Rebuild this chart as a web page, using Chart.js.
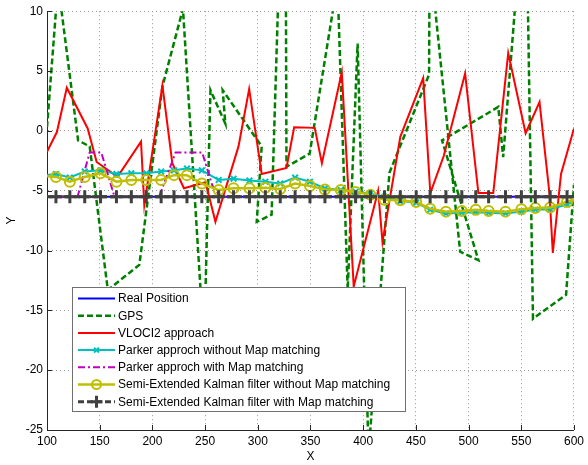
<!DOCTYPE html>
<html>
<head>
<meta charset="utf-8">
<script src="https://cdn.jsdelivr.net/npm/chart.js@4/dist/chart.umd.min.js"></script>
<style>
  html, body { margin: 0; padding: 0; background: #fff; }
</style>
</head>
<body>
<canvas id="chart" width="588" height="465"></canvas>
<script>
// sample positions shared by the filter outputs
const sampleX = [100, 108.5, 121.7, 135.8, 150.8, 165.9, 180, 194.2, 208.3, 220.5, 232.8, 246.9,
  262.9, 277, 292.1, 307.2, 321.3, 335.4, 349.5, 363.7, 378.7, 392.8, 406.9, 420.2, 435.2,
  450.3, 463.5, 478.5, 493.6, 506.8, 519, 535, 550.1, 563.3, 577.4, 593.4, 600];

const realX = [100, 600];
const realY = [-5.5, -5.5];

const gpsX = [100, 110.5, 129.5, 140.5, 157.7, 187.6, 209.5, 229, 245.7, 250.4, 255.1, 269.2,
  266.7, 303.7, 299, 313.1, 326, 327.2, 349.2, 375.6, 385.3, 394.7, 405.1, 416.7, 424.9,
  462.5, 463, 492, 509.3, 474.8, 528.2, 532.8, 554.2, 561.1, 592.5, 600];
const gpsY = [0.3, 12.3, -0.8, -1.3, -13.3, -11.2, 3.7, 10.2, -13.3, -13.3, 3.4, 0.6,
  3.4, -1.3, -7.6, -7.0, 30, -3.0, -1.9, 12.4, -13.3, 7.3, -27, -13, -3.5,
  4.7, 14.7, -10.1, -10.8, -0.8, 2.0, -2.2, 21.6, -15.7, -13.7, -4.5];

const vlociX = [100, 109.4, 118.8, 138.6, 147.1, 166.9, 189.2, 192.3, 209.5, 218.9, 229.9, 250.4,
  259.8, 281.7, 291.8, 303.7, 327.2, 334.5, 354, 360.8, 379.7, 391, 414.2, 418.3, 435.2,
  456.9, 463.7, 476.4, 496.7, 509.3, 523.4, 537.6, 554.1, 567.3, 576.7, 579.9, 587.7, 600];
const vlociY = [-1.75, -0.1, 3.6, 0.2, -2.6, -3.85, -0.9, -6.2, 3.8, -2.7, -4.8, -4.3,
  -7.6, -1.3, 3.5, -3.6, -3.1, 0.3, 0.25, -2.7, 4.9, -13.0, -5.0, -9.3, -0.5,
  4.4, -5.2, -2.1, 4.8, -5.2, -5.2, 6.5, -0.2, 2.4, -5.2, -10.2, -3.6, 0.2];

const parkerY = [-3.7, -3.6, -3.9, -3.4, -3.3, -3.6, -3.55, -3.55, -3.4, -3.3, -3.15, -3.3,
  -4.1, -4.0, -4.15, -4.25, -4.4, -3.9, -4.25, -4.8, -4.95, -5.1, -5.25, -5.5, -5.85,
  -6.0, -6.6, -6.9, -6.85, -6.8, -6.85, -6.9, -6.75, -6.6, -6.55, -6.15, -5.9];

const parkerMapX = [100, 129, 140.5, 151.5, 164, 206.4, 222, 247.2, 257, 265, 600];
const parkerMapY = [-5.5, -5.5, -1.8, -1.8, -5.5, -5.5, -1.8, -1.8, -4.6, -5.5, -5.5];

const kalmanY = [-3.8, -3.85, -4.25, -3.85, -3.55, -4.25, -4.1, -4.1, -4.1, -3.7, -3.7, -4.4,
  -4.95, -4.8, -4.8, -4.75, -4.85, -4.4, -4.6, -4.9, -4.95, -5.1, -5.35, -5.75, -5.8,
  -5.95, -6.5, -6.75, -6.7, -6.6, -6.7, -6.75, -6.55, -6.45, -6.4, -5.95, -5.75];

const kalmanMapY = sampleX.map(() => -5.5);

const xTicks = [100, 150, 200, 250, 300, 350, 400, 450, 500, 550, 600];
const yTicks = [-25, -20, -15, -10, -5, 0, 5, 10];

const labels = [
  'Real Position',
  'GPS',
  'VLOCI2 approach',
  'Parker approch without Map matching',
  'Parker approch with Map matching',
  'Semi-Extended Kalman filter without Map matching',
  'Semi-Extended Kalman filter with Map matching'
];

const FONT = '"Liberation Sans", Arial, Helvetica, sans-serif';

function pts(xa, ya) {
  return xa.map((x, i) => ({ x: x, y: ya[i] }));
}

// hide marker on the first / last sample (they sit on the axis edges)
function innerRadius(r) {
  return function (c) {
    return (c.dataIndex === 0 || c.dataIndex === sampleX.length - 1) ? 0 : r;
  };
}

const styles = [
  { color: '#0000ff', width: 2, dash: [], marker: null },
  { color: '#008000', width: 2.5, dash: [6, 3], marker: null },
  { color: '#ff0000', width: 2, dash: [], marker: null },
  { color: '#00bfbf', width: 2, dash: [], marker: 'crossRot', radius: 4, mw: 2 },
  { color: '#bf00bf', width: 2, dash: [7, 3, 2, 3], marker: null },
  { color: '#bfbf00', width: 2.5, dash: [], marker: 'circle', radius: 5, mw: 2 },
  { color: '#404040', width: 3, dash: [6, 3], marker: 'cross', radius: 6.5, mw: 3 }
];

function makeSet(i, data) {
  const s = styles[i];
  return {
    label: labels[i],
    data: data,
    showLine: true,
    borderColor: s.color,
    backgroundColor: 'rgba(0,0,0,0)',
    borderWidth: s.width,
    borderDash: s.dash,
    pointStyle: s.marker || 'circle',
    pointRadius: s.marker ? innerRadius(s.radius) : 0,
    pointBorderWidth: s.mw || 1,
    pointBorderColor: s.color,
    pointBackgroundColor: 'rgba(0,0,0,0)',
    tension: 0,
    order: 6 - i
  };
}

const extras = {
  id: 'extras',
  afterDraw(chart) {
    const ctx = chart.ctx;
    const a = chart.chartArea;
    const sx = chart.scales.x, sy = chart.scales.y;
    ctx.save();

    // inward ticks
    ctx.strokeStyle = '#262626';
    ctx.lineWidth = 1;
    ctx.beginPath();
    xTicks.forEach(v => {
      const p = Math.round(sx.getPixelForValue(v)) + 0.5;
      ctx.moveTo(p, a.bottom);
      ctx.lineTo(p, a.bottom - 5);
    });
    yTicks.forEach(v => {
      const p = Math.round(sy.getPixelForValue(v)) + 0.5;
      ctx.moveTo(a.left, p);
      ctx.lineTo(a.left + 5, p);
    });
    ctx.stroke();

    // axis titles
    ctx.fillStyle = '#000';
    ctx.font = '12px ' + FONT;
    ctx.textAlign = 'center';
    ctx.textBaseline = 'middle';
    ctx.fillText('X', (a.left + a.right) / 2, 457);
    ctx.save();
    ctx.translate(12, (a.top + a.bottom) / 2);
    ctx.rotate(-Math.PI / 2);
    ctx.fillText('Y', 0, 0);
    ctx.restore();

    // legend box
    const bx = 72.5, by = 287.5, bw = 333, bh = 124;
    ctx.fillStyle = '#fff';
    ctx.fillRect(bx, by, bw, bh);
    ctx.strokeStyle = '#707070';
    ctx.lineWidth = 1;
    ctx.strokeRect(bx, by, bw, bh);

    ctx.textAlign = 'left';
    for (let i = 0; i < labels.length; i++) {
      const s = styles[i];
      const y = 298.5 + i * 17.2;
      ctx.save();
      ctx.strokeStyle = s.color;
      ctx.lineWidth = s.width;
      ctx.setLineDash(s.dash);
      ctx.beginPath();
      ctx.moveTo(78, y);
      ctx.lineTo(115, y);
      ctx.stroke();
      ctx.setLineDash([]);
      if (s.marker) {
        ctx.lineWidth = s.mw;
        ctx.fillStyle = 'rgba(0,0,0,0)';
        Chart.helpers.drawPoint(ctx, {
          pointStyle: s.marker, radius: s.radius - 0.5, borderWidth: s.mw, rotation: 0
        }, 96.5, y);
      }
      ctx.restore();
      ctx.fillStyle = '#000';
      ctx.fillText(labels[i], 118, y + 0.5);
    }
    ctx.restore();
  }
};

new Chart(document.getElementById('chart').getContext('2d'), {
  type: 'scatter',
  data: {
    datasets: [
      makeSet(0, pts(realX, realY)),
      makeSet(1, pts(gpsX, gpsY)),
      makeSet(2, pts(vlociX, vlociY)),
      makeSet(3, pts(sampleX, parkerY)),
      makeSet(4, pts(parkerMapX, parkerMapY)),
      makeSet(5, pts(sampleX, kalmanY)),
      makeSet(6, pts(sampleX, kalmanMapY))
    ]
  },
  options: {
    responsive: false,
    animation: false,
    devicePixelRatio: 1,
    layout: { padding: { top: 11, right: 10, left: 0, bottom: 0 } },
    plugins: {
      legend: { display: false },
      tooltip: { enabled: false }
    },
    scales: {
      x: {
        type: 'linear',
        min: 100,
        max: 600,
        afterFit: s => { s.height = 35; },
        afterBuildTicks: s => { s.ticks = xTicks.map(v => ({ value: v })); },
        ticks: { color: '#000', font: { family: FONT, size: 12 }, padding: 4, maxRotation: 0 },
        grid: { color: '#9a9a9a', lineWidth: 1, drawTicks: false },
        border: { display: true, color: '#262626', width: 1, dash: [1, 3] }
      },
      y: {
        type: 'linear',
        min: -25,
        max: 10,
        afterFit: s => { s.width = 47; },
        afterBuildTicks: s => { s.ticks = yTicks.map(v => ({ value: v })); },
        ticks: { color: '#000', font: { family: FONT, size: 12 }, padding: 4 },
        grid: { color: '#9a9a9a', lineWidth: 1, drawTicks: false },
        border: { display: true, color: '#262626', width: 1, dash: [1, 3] }
      }
    }
  },
  plugins: [extras]
});
</script>
</body>
</html>
